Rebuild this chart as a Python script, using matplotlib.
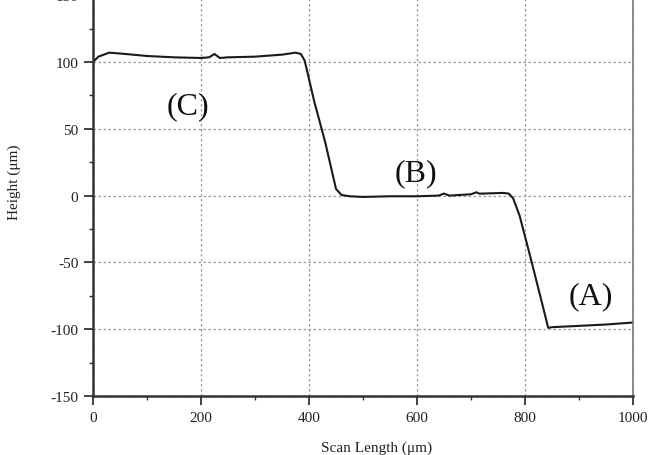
import matplotlib
matplotlib.use("Agg")
import matplotlib.pyplot as plt
from matplotlib.ticker import MultipleLocator

plt.rcParams['font.family'] = ['Liberation Serif', 'DejaVu Serif']
plt.rcParams['axes.unicode_minus'] = False

scan_x = [0, 10, 30, 60, 100, 150, 200, 215, 225, 235, 250, 300, 350, 375, 385, 392,
          410, 430, 450, 460, 475, 500, 550, 600, 640, 650, 660, 700, 710, 715, 720,
          760, 770, 778, 790, 810, 830, 843, 850, 900, 950, 1000]
height_y = [100, 104, 107, 106, 104.5, 103.5, 103, 103.5, 106, 103, 103.5, 104, 105.5, 107, 106, 101,
            70, 40, 5, 0.5, -0.5, -1, -0.5, -0.5, 0, 1.5, 0, 1, 2.5, 1.5, 1.5,
            2, 1.5, -2, -15, -46, -78, -99, -98.5, -97.5, -96.5, -95]

x_ticks = [0, 200, 400, 600, 800, 1000]
y_ticks = [-150, -100, -50, 0, 50, 100, 150]
labels = ["(A)", "(B)", "(C)"]
label_pos_x = [922, 598, 176]
label_pos_y = [-75, 17, 67]

fig = plt.figure(figsize=(6.53, 4.56), dpi=100)
ax = fig.add_axes([93/653, 59/456, 540/653, 400.8/456])

ax.plot(scan_x, height_y, color='#1a1a1a', lw=1.5)

ax.set_xlim(0, 1000)
ax.set_ylim(-150, 150)
ax.set_xticks(x_ticks)
ax.set_yticks(y_ticks)
ax.xaxis.set_minor_locator(MultipleLocator(100))
ax.yaxis.set_minor_locator(MultipleLocator(25))
ax.tick_params(which='major', direction='out', length=6.5, width=1.3, colors='#333333',
               labelsize=11, labelcolor='#222222', pad=4)
ax.tick_params(which='minor', direction='out', length=3, width=1.0, colors='#333333')
ax.grid(True, which='major', linestyle=(0, (2, 2)), color='#999999', lw=0.9)

for side in ['left', 'bottom']:
    ax.spines[side].set_linewidth(1.8)
    ax.spines[side].set_color('#333333')
for side in ['right', 'top']:
    ax.spines[side].set_linewidth(1.2)
    ax.spines[side].set_color('#777777')

for t, px, py in zip(labels, label_pos_x, label_pos_y):
    ax.text(px, py, t, fontsize=23, ha='center', va='center', color='#111111')

ax.set_xlabel('Scan Length (μm)', fontsize=11, color='#222222')
ax.set_ylabel('Height (μm)', fontsize=11, color='#222222')
ax.xaxis.set_label_coords((377 - 93) / 540, (397 - 448) / 400.8)
ax.yaxis.set_label_coords((14 - 93) / 540, (397 - 182) / 400.8)
ax.xaxis.label.set_va('center')
ax.yaxis.label.set_va('center')

fig.savefig('out.png', dpi=100)
